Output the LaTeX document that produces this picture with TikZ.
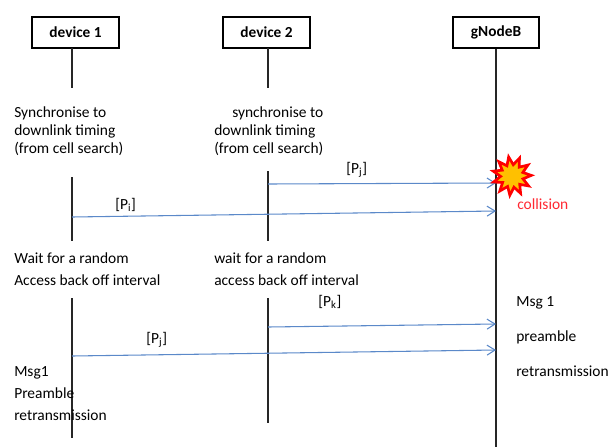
\documentclass[tikz,border=0pt]{standalone}
\usepackage{fontspec}
\setmainfont{Carlito}
\usetikzlibrary{arrows.meta,shapes.geometric}
\definecolor{msgblue}{RGB}{91,137,201}
\definecolor{burst}{RGB}{255,192,0}
\definecolor{alarm}{RGB}{255,40,50}

\begin{document}
\begin{tikzpicture}[x=0.75pt,y=-0.75pt,
  actor/.style={draw, line width=1.4pt, minimum width=65pt, minimum height=23pt, inner sep=0pt, font=\fontsize{11.5}{14}\selectfont\bfseries},
  life/.style={line width=0.8pt, black!85},
  msg/.style={msgblue, line width=0.8pt, -{Straight Barb[length=6pt,width=7.5pt]}},
  lbl/.style={anchor=base west, inner sep=0pt, font=\fontsize{11.6}{14}\selectfont},
  note/.style={anchor=north west, inner sep=0pt, align=left}]
\useasboundingbox (0,0) rectangle (609,447);
\node (dev1) at (75.5,32.5) [actor] {device 1};
\node (dev2) at (266.5,32.5) [actor] {device 2};
\node (gnb) at (496,32.5) [actor] {gNodeB};
% lifelines
\coordinate (d1a) at (72,48);  \coordinate (d1b) at (72,88);
\coordinate (d1c) at (72,177); \coordinate (d1d) at (72,241);
\coordinate (d1e) at (72,298); \coordinate (d1f) at (72,438);
\coordinate (d2a) at (268,48);  \coordinate (d2b) at (268,88);
\coordinate (d2c) at (268,171); \coordinate (d2d) at (268,241);
\coordinate (d2e) at (268,298); \coordinate (d2f) at (268,423);
\coordinate (gb) at (496,447);
\draw[life]
(d1a) to (d1b)
(d1c) to (d1d)
(d1e) to (d1f)
(d2a) to (d2b)
(d2c) to (d2d)
(d2e) to (d2f)
(gnb.south) to (gb);
% preambles
\coordinate (pj1) at (268,184); \coordinate (gj1) at (496,183);
\coordinate (pi1) at (72,217);  \coordinate (gi1) at (496,211);
\coordinate (pk2) at (268,327); \coordinate (gk2) at (496,324);
\coordinate (pj2) at (72,356);  \coordinate (gj2) at (496,350);
\draw[msg] (pj1) to (gj1);
\draw[msg] (pi1) to (gi1);
\draw[msg] (pk2) to (gk2);
\draw[msg] (pj2) to (gj2);
\node (lj1) at (346,173) [lbl] {[P\textsubscript{j}]};
\node (li1) at (115,209) [lbl] {[P\textsubscript{i}]};
\node (lk2) at (318,306) [lbl] {[P\textsubscript{k}]};
\node (lj2) at (146,343) [lbl] {[P\textsubscript{j}]};
% collision
\node (burst) at (512,176) [star, star points=11, star point ratio=1.7, rotate=10, minimum size=29pt, inner sep=0pt, fill=burst, draw=red, line width=2pt] {};
\node (coll) at (517,209) [lbl, text=alarm, font=\fontsize{11.6}{14}\selectfont] {collision};
% notes
\node (sync1) at (14,106) [note, font=\fontsize{11.6}{13.5}\selectfont] {Synchronise to\\downlink timing\\(from cell search)};
\node (sync2) at (214,106) [note, font=\fontsize{11.6}{13.5}\selectfont] {\hspace*{13.5pt}synchronise to\\downlink timing\\(from cell search)};
\node (wait1) at (14,252) [note, font=\fontsize{11.6}{16.5}\selectfont] {Wait for a random\\Access back off interval};
\node (wait2) at (214,252) [note, font=\fontsize{11.6}{16.5}\selectfont] {wait for a random\\access back off interval};
\node (re1) at (14,366) [note, font=\fontsize{11.6}{16.5}\selectfont] {Msg1\\Preamble\\retransmission};
\node (re2) at (516,296) [note, font=\fontsize{11.6}{26.25}\selectfont] {Msg 1\\preamble\\retransmission};
\end{tikzpicture}
\end{document}
